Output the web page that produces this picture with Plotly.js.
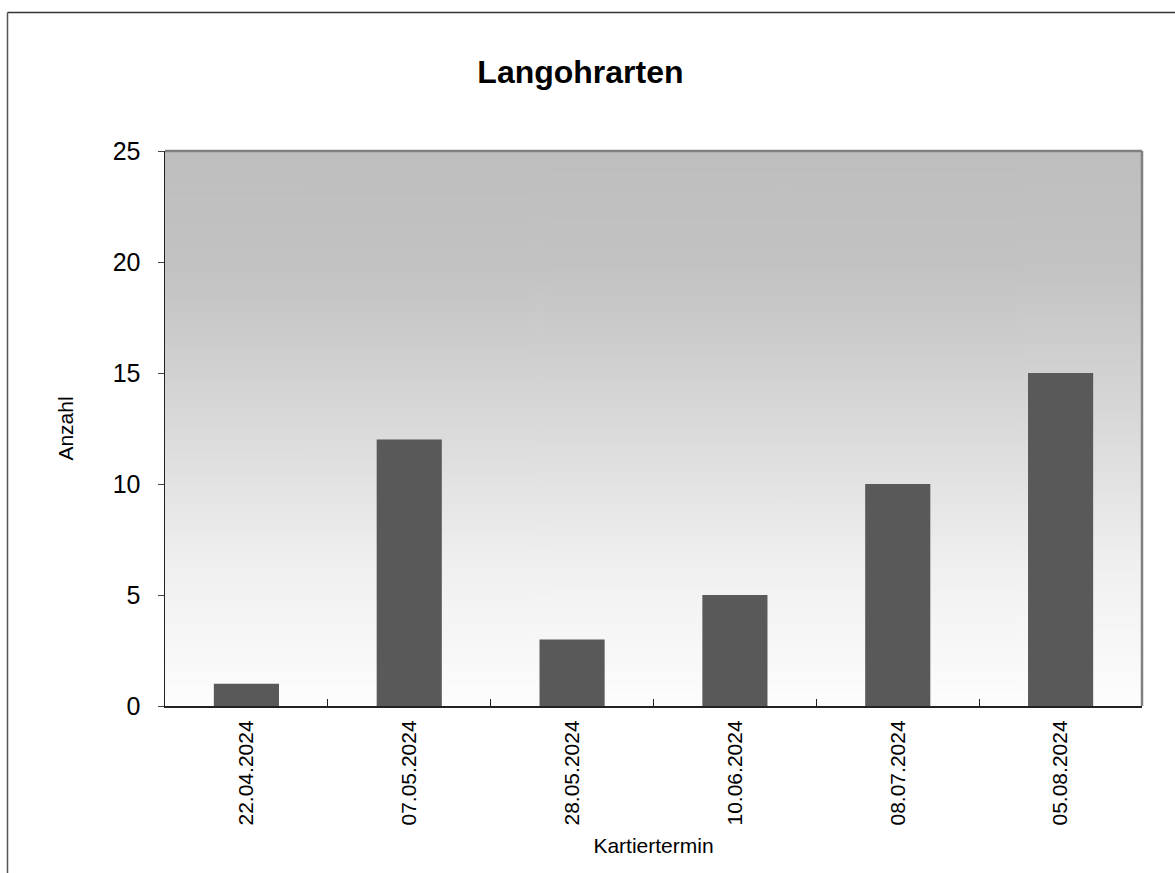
<!DOCTYPE html>
<html>
<head>
<meta charset="utf-8">
<script src="https://cdn.plot.ly/plotly-3.0.1.min.js"></script>
<style>
html,body{margin:0;padding:0;background:#fff;}
#chart{width:1175px;height:873px;}
</style>
</head>
<body>
<div id="chart"></div>
<script>
const categories = ["22.04.2024","07.05.2024","28.05.2024","10.06.2024","08.07.2024","05.08.2024"];
const counts = [1, 12, 3, 5, 10, 15];
const chartTitle = "Langohrarten";
const xTitle = "Kartiertermin";
const yTitle = "Anzahl";

// gradient background image
const cv = document.createElement('canvas');
cv.width = 4; cv.height = 512;
const ctx = cv.getContext('2d');
const g = ctx.createLinearGradient(0,0,0,512);
g.addColorStop(0, '#bebebe');
g.addColorStop(0.22, '#c3c3c3');
g.addColorStop(0.5, '#dadada');
g.addColorStop(0.75, '#f0f0f0');
g.addColorStop(1, '#fdfdfd');
ctx.fillStyle = g; ctx.fillRect(0,0,4,512);
const bgUrl = cv.toDataURL('image/png');

const L = 165, R = 1142, T = 151, B = 706, W = 1175, H = 873;
const pw = R - L, ph = B - T;
const px = v => (v - L) / pw;
const py = v => (B - v) / ph;

const FONT = 'Liberation Sans, Arial, sans-serif';

const trace = {
  type: 'bar',
  x: categories,
  y: counts,
  width: 0.4,
  marker: {color: '#595959', line: {width: 0}},
  hoverinfo: 'x+y'
};

const layout = {
  width: W, height: H,
  margin: {l: L, r: W - R, t: T, b: H - B, pad: 0},
  paper_bgcolor: '#ffffff',
  plot_bgcolor: 'rgba(0,0,0,0)',
  showlegend: false,
  font: {family: FONT, color: '#000'},
  title: {
    text: chartTitle,
    x: 0.494, xref: 'container', xanchor: 'center',
    y: 1 - 72 / H, yref: 'container', yanchor: 'middle',
    font: {family: FONT, size: 32, weight: 700, color: '#000'}
  },
  xaxis: {
    type: 'category',
    range: [-0.5, 5.5],
    showgrid: false, zeroline: false,
    showline: true, linecolor: '#222', linewidth: 2,
    ticks: 'inside', tickson: 'boundaries', ticklen: 7, tickwidth: 1, tickcolor: '#222',
    tickangle: -90,
    tickfont: {family: FONT, size: 21, color: '#000'},
    ticklabelstandoff: 4,
    title: {text: xTitle, font: {family: FONT, size: 21, color: '#000'}, standoff: 14},
    fixedrange: true
  },
  yaxis: {
    range: [0, 25],
    dtick: 5,
    showgrid: false, zeroline: false,
    showline: true, linecolor: '#222', linewidth: 1.5,
    ticks: 'outside', ticklen: 6, tickwidth: 1, tickcolor: '#444',
    tickfont: {family: FONT, size: 25, color: '#000'},
    ticklabelstandoff: 12,
    title: {text: yTitle, font: {family: FONT, size: 21, color: '#000'}, standoff: 33},
    fixedrange: true
  },
  images: [{
    source: bgUrl, xref: 'paper', yref: 'paper',
    x: 0, y: 1, sizex: 1, sizey: 1, sizing: 'stretch',
    xanchor: 'left', yanchor: 'top', layer: 'below'
  }],
  shapes: [
    {type: 'line', xref: 'paper', yref: 'paper', x0: 0, x1: 1, y0: 1, y1: 1,
     line: {color: '#808080', width: 2.5}},
    {type: 'line', xref: 'paper', yref: 'paper', x0: 1, x1: 1, y0: 0, y1: 1,
     line: {color: '#808080', width: 2.5}},
    {type: 'line', xref: 'paper', yref: 'paper', x0: px(7.5), x1: px(1176), y0: py(12.5), y1: py(12.5),
     line: {color: '#333', width: 1.5}},
    {type: 'line', xref: 'paper', yref: 'paper', x0: px(7.5), x1: px(7.5), y0: py(12.5), y1: py(874),
     line: {color: '#555', width: 1.5}}
  ]
};

Plotly.newPlot('chart', [trace], layout, {displayModeBar: false, staticPlot: true});
</script>
</body>
</html>
